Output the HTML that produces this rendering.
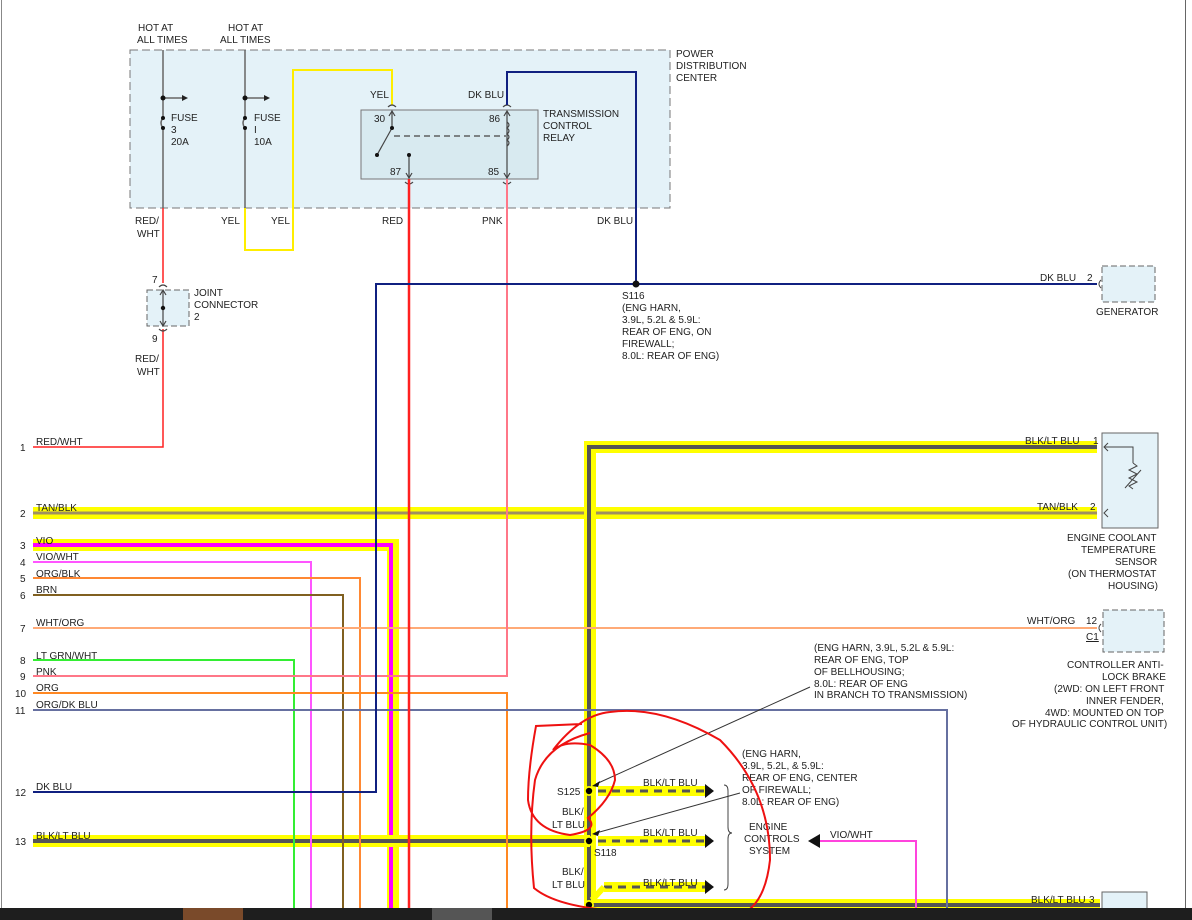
<!DOCTYPE html>
<html><head><meta charset="utf-8"><style>
html,body{margin:0;padding:0;background:#fff;}
svg{display:block;}
text{font-family:"Liberation Sans",sans-serif;font-size:10px;fill:#222;}
</style></head><body>
<svg width="1192" height="920" viewBox="0 0 1192 920" xmlns="http://www.w3.org/2000/svg">
<rect width="1192" height="920" fill="#fff"/>
<line x1="1.5" y1="0" x2="1.5" y2="910" stroke="#888" stroke-width="1"/>
<line x1="1185.5" y1="0" x2="1185.5" y2="910" stroke="#666" stroke-width="1"/>

<!-- PDC -->
<rect x="130" y="50" width="540" height="158" fill="#e4f2f8" stroke="#777" stroke-dasharray="8,4"/>
<text x="676" y="57">POWER</text><text x="676" y="69">DISTRIBUTION</text><text x="676" y="81">CENTER</text>
<text x="138" y="31">HOT AT</text><text x="137" y="43">ALL TIMES</text>
<text x="228" y="31">HOT AT</text><text x="220" y="43">ALL TIMES</text>
<!-- fuses -->
<g stroke="#666" stroke-width="1.5" fill="none">
<line x1="163" y1="50" x2="163" y2="118"/><path d="M163 118 q-4 5 0 10"/><line x1="163" y1="128" x2="163" y2="208"/>
<line x1="245" y1="50" x2="245" y2="118"/><path d="M245 118 q-4 5 0 10"/><line x1="245" y1="128" x2="245" y2="208"/>
<line x1="163" y1="98" x2="182" y2="98"/><line x1="245" y1="98" x2="264" y2="98"/>
</g>
<path d="M182 95 L188 98 L182 101Z M264 95 L270 98 L264 101Z" fill="#222"/>
<circle cx="163" cy="98" r="2.5" fill="#111"/><circle cx="245" cy="98" r="2.5" fill="#111"/>
<circle cx="163" cy="118" r="2" fill="#111"/><circle cx="163" cy="128" r="2" fill="#111"/>
<circle cx="245" cy="118" r="2" fill="#111"/><circle cx="245" cy="128" r="2" fill="#111"/>
<text x="171" y="121">FUSE</text><text x="171" y="133">3</text><text x="171" y="145">20A</text>
<text x="254" y="121">FUSE</text><text x="254" y="133">I</text><text x="254" y="145">10A</text>
<!-- yellow wire -->
<polyline points="245,208 245,250 293,250 293,70 392,70 392,105" fill="none" stroke="#ffee00" stroke-width="2"/>
<!-- relay -->
<rect x="361" y="110" width="177" height="69" fill="#d8eaf0" stroke="#777"/>
<text x="543" y="117">TRANSMISSION</text><text x="543" y="129">CONTROL</text><text x="543" y="141">RELAY</text>
<text x="370" y="98">YEL</text><text x="468" y="98">DK BLU</text>
<text x="374" y="122">30</text><text x="489" y="122">86</text><text x="390" y="175">87</text><text x="488" y="175">85</text>
<g stroke="#444" stroke-width="1.2" fill="none">
<line x1="392" y1="112" x2="392" y2="128"/><path d="M389 116 L392 111 L395 116"/>
<line x1="392" y1="128" x2="377" y2="155"/>
<line x1="394" y1="136" x2="506" y2="136" stroke-dasharray="6,4"/>
<line x1="409" y1="155" x2="409" y2="178"/><path d="M406 173 L409 178 L412 173"/>
<line x1="507" y1="112" x2="507" y2="178"/><path d="M504 116 L507 111 L510 116 M504 173 L507 178 L510 173"/>
<path d="M507 122 q4 3 0 6 q4 3 0 6 q4 3 0 6 q4 3 0 6"/>
<path d="M388 107 q4 -4 8 0 M503 107 q4 -4 8 0 M405 182 q4 4 8 0 M503 182 q4 4 8 0"/>
</g>
<circle cx="392" cy="128" r="2" fill="#111"/><circle cx="377" cy="155" r="2" fill="#111"/><circle cx="409" cy="155" r="2" fill="#111"/>
<!-- labels under PDC -->
<text x="135" y="224">RED/</text><text x="137" y="237">WHT</text>
<text x="221" y="224">YEL</text><text x="271" y="224">YEL</text>
<text x="382" y="224">RED</text><text x="482" y="224">PNK</text><text x="597" y="224">DK BLU</text>

<!-- red/wht wire -->
<polyline points="163,208 163,283 M163,329 163,447 33,447" fill="none" stroke="#ff2020" stroke-width="1.5"/>
<polyline points="163,329 163,447 33,447" fill="none" stroke="#ff2020" stroke-width="1.5"/>
<rect x="147" y="290" width="42" height="36" fill="#e4f2f8" stroke="#666" stroke-dasharray="6,3"/>
<g stroke="#444" fill="none" stroke-width="1.2">
<line x1="163" y1="291" x2="163" y2="325"/><path d="M160 295 L163 290 L166 295 M160 321 L163 326 L166 321"/>
<path d="M159 287 q4 -4 8 0 M159 329 q4 4 8 0"/>
</g>
<circle cx="163" cy="308" r="2.2" fill="#111"/>
<text x="152" y="283">7</text><text x="152" y="342">9</text>
<text x="194" y="296">JOINT</text><text x="194" y="308">CONNECTOR</text><text x="194" y="320">2</text>
<text x="135" y="362">RED/</text><text x="137" y="375">WHT</text>

<!-- thick harness wires -->
<g fill="none" stroke-linejoin="miter">
<polyline points="33,513 1097,513" stroke="#ffff00" stroke-width="12"/>
<polyline points="33,513 1097,513" stroke="#a09060" stroke-width="3"/>
<polyline points="33,545 393,545 393,910" stroke="#ffff00" stroke-width="12"/>
<polyline points="33,545 391,545 391,910" stroke="#ff00ff" stroke-width="4"/>
<polyline points="1097,447 590,447 590,905 1100,905" stroke="#ffff00" stroke-width="12"/>
<polyline points="1097,447 589,447 589,905 1100,905" stroke="#555" stroke-width="4"/>
<polyline points="33,841 590,841" stroke="#ffff00" stroke-width="12"/>
<polyline points="33,841 590,841" stroke="#555" stroke-width="4"/>
</g>
<!-- thin wires -->
<g fill="none" stroke-width="2">
<polyline points="33,562 311,562 311,910" stroke="#ff55ff"/>
<polyline points="33,578 360,578 360,910" stroke="#ff8833"/>
<polyline points="33,595 343,595 343,910" stroke="#806020"/>
<polyline points="33,628 1097,628" stroke="#ffaa77"/>
<polyline points="33,660 294,660 294,910" stroke="#33ee33"/>
<polyline points="507,179 507,676 33,676" stroke="#ff7788"/>
<polyline points="33,693 507,693 507,910" stroke="#ff8822"/>
<polyline points="33,710 947,710 947,910" stroke="#6670a0"/>
<polyline points="409,179 409,910" stroke="#ff2020" stroke-width="2.5"/>
<polyline points="507,105 507,72 636,72 636,284 1097,284" stroke="#102080"/>
<polyline points="636,284 376,284 376,792 33,792" stroke="#102080"/>
<polyline points="916,910 916,841 820,841" stroke="#ff44dd"/>
</g>
<path d="M808 841 L820 834 L820 848Z" fill="#111"/>
<circle cx="636" cy="284" r="3.5" fill="#111"/>
<text x="622" y="299">S116</text><text x="622" y="311">(ENG HARN,</text><text x="622" y="323">3.9L, 5.2L &amp; 5.9L:</text><text x="622" y="335">REAR OF ENG, ON</text><text x="622" y="347">FIREWALL;</text><text x="622" y="359">8.0L: REAR OF ENG)</text>

<!-- wire labels left -->
<g>
<text x="20" y="451">1</text><text x="36" y="445">RED/WHT</text>
<text x="20" y="517">2</text><text x="36" y="511">TAN/BLK</text>
<text x="20" y="549">3</text><text x="36" y="544">VIO</text>
<text x="20" y="566">4</text><text x="36" y="560">VIO/WHT</text>
<text x="20" y="582">5</text><text x="36" y="577">ORG/BLK</text>
<text x="20" y="599">6</text><text x="36" y="593">BRN</text>
<text x="20" y="632">7</text><text x="36" y="626">WHT/ORG</text>
<text x="20" y="664">8</text><text x="36" y="659">LT GRN/WHT</text>
<text x="20" y="680">9</text><text x="36" y="675">PNK</text>
<text x="15" y="697">10</text><text x="36" y="691">ORG</text>
<text x="15" y="714">11</text><text x="36" y="708">ORG/DK BLU</text>
<text x="15" y="796">12</text><text x="36" y="790">DK BLU</text>
<text x="15" y="845">13</text><text x="36" y="839">BLK/LT BLU</text>
</g>

<!-- generator -->
<rect x="1102" y="266" width="53" height="36" fill="#e4f2f8" stroke="#666" stroke-dasharray="6,3"/>
<path d="M1101 280 q-4 4 0 8" fill="none" stroke="#444"/>
<text x="1040" y="281">DK BLU</text><text x="1087" y="281">2</text>
<text x="1096" y="315">GENERATOR</text>
<!-- ECT sensor -->
<rect x="1102" y="433" width="56" height="95" fill="#e4f2f8" stroke="#666"/>
<polyline points="1104,447 1133,447 1133,463 M1133,493 1133,513 1104,513" fill="none" stroke="#444"/>
<path d="M1133 463 l4 3 l-8 4 l8 4 l-8 4 l8 4 l-8 4 l4 3 M1125 488 L1141 470" fill="none" stroke="#444"/>
<path d="M1108 443 L1104 447 L1108 451 M1108 509 L1104 513 L1108 517" fill="none" stroke="#444"/>
<text x="1025" y="444">BLK/LT BLU</text><text x="1093" y="444">1</text>
<text x="1037" y="510">TAN/BLK</text><text x="1090" y="510">2</text>
<text x="1067" y="541">ENGINE COOLANT</text><text x="1081" y="553">TEMPERATURE</text><text x="1115" y="565">SENSOR</text>
<text x="1068" y="577">(ON THERMOSTAT</text><text x="1108" y="589">HOUSING)</text>
<!-- ABS -->
<rect x="1103" y="610" width="61" height="42" fill="#e4f2f8" stroke="#666" stroke-dasharray="6,3"/>
<path d="M1101 624 q-4 4 0 8" fill="none" stroke="#444"/>
<text x="1027" y="624">WHT/ORG</text><text x="1086" y="624">12</text>
<text x="1086" y="640" text-decoration="underline">C1</text>
<text x="1067" y="668">CONTROLLER ANTI-</text><text x="1102" y="680">LOCK BRAKE</text>
<text x="1054" y="692">(2WD: ON LEFT FRONT</text><text x="1086" y="704">INNER FENDER,</text>
<text x="1045" y="716">4WD: MOUNTED ON TOP</text><text x="1012" y="727">OF HYDRAULIC CONTROL UNIT)</text>
<!-- bottom right connector -->
<rect x="1102" y="892" width="45" height="20" fill="#e4f2f8" stroke="#666"/>
<text x="1031" y="903">BLK/LT BLU</text><text x="1089" y="903">3</text>

<!-- splices -->
<g fill="none" stroke-width="6">
<line x1="598" y1="791" x2="705" y2="791" stroke="#ffff00" stroke-width="10"/>
<line x1="598" y1="841" x2="705" y2="841" stroke="#ffff00" stroke-width="10"/>
<line x1="604" y1="887" x2="705" y2="887" stroke="#ffff00" stroke-width="10"/>
<line x1="598" y1="791" x2="705" y2="791" stroke="#555" stroke-width="3" stroke-dasharray="8,6"/>
<line x1="598" y1="841" x2="705" y2="841" stroke="#555" stroke-width="3" stroke-dasharray="8,6"/>
<line x1="604" y1="887" x2="705" y2="887" stroke="#555" stroke-width="3" stroke-dasharray="8,6"/>
<line x1="592" y1="900" x2="604" y2="887" stroke="#ffff00" stroke-width="6"/>
</g>
<path d="M705 784 L714 791 L705 798Z M705 834 L714 841 L705 848Z M705 880 L714 887 L705 894Z" fill="#111"/>
<circle cx="589" cy="791" r="5" fill="#ffff00"/><circle cx="589" cy="791" r="3.2" fill="#000"/>
<circle cx="589" cy="841" r="5" fill="#ffff00"/><circle cx="589" cy="841" r="3.2" fill="#000"/>
<circle cx="589" cy="905" r="5" fill="#ffff00"/><circle cx="589" cy="905" r="3.2" fill="#000"/>
<text x="643" y="786">BLK/LT BLU</text><text x="643" y="836">BLK/LT BLU</text><text x="643" y="886">BLK/LT BLU</text>
<text x="557" y="795">S125</text><text x="594" y="856">S118</text>
<text x="562" y="815">BLK/</text><text x="552" y="828">LT BLU</text>
<text x="562" y="875">BLK/</text><text x="552" y="888">LT BLU</text>
<path d="M724 785 q4 0 4 6 v36 q0 6 4 6 q-4 0 -4 6 v45 q0 6 -4 6" fill="none" stroke="#444"/>
<text x="749" y="830">ENGINE</text><text x="744" y="842">CONTROLS</text><text x="749" y="854">SYSTEM</text>
<text x="830" y="838">VIO/WHT</text>
<text x="742" y="757">(ENG HARN,</text><text x="742" y="769">3.9L, 5.2L, &amp; 5.9L:</text><text x="742" y="781">REAR OF ENG, CENTER</text><text x="742" y="793">OF FIREWALL;</text><text x="742" y="805">8.0L: REAR OF ENG)</text>
<text x="814" y="651">(ENG HARN, 3.9L, 5.2L &amp; 5.9L:</text><text x="814" y="663">REAR OF ENG, TOP</text><text x="814" y="675">OF BELLHOUSING;</text><text x="814" y="687">8.0L: REAR OF ENG</text><text x="814" y="698">IN BRANCH TO TRANSMISSION)</text>
<line x1="810" y1="687" x2="596" y2="784" stroke="#333"/>
<line x1="740" y1="793" x2="596" y2="833" stroke="#333"/>
<path d="M592 786 L600 781 L598 787Z M592 834 L600 830 L598 836Z" fill="#111"/>

<!-- red hand-drawn circles -->
<g fill="none" stroke="#ee1111" stroke-width="2">
<path d="M582 724 L536 726 Q528 770 528 800 Q532 830 570 835 Q600 830 588 818 Q610 800 615 780 Q615 760 590 745 Q565 740 553 750 Q580 715 610 712 Q660 705 720 740 Q770 790 770 860 Q765 905 740 915 Q690 925 640 912 Q560 910 534 888 Q528 830 535 780 Q545 745 590 733"/>
</g>

<!-- bottom bar -->
<rect x="0" y="908" width="1192" height="12" fill="#1e1e1e"/>
<rect x="183" y="908" width="60" height="12" fill="#7a4a2a"/>
<rect x="432" y="908" width="60" height="12" fill="#555"/>
</svg>
</body></html>
